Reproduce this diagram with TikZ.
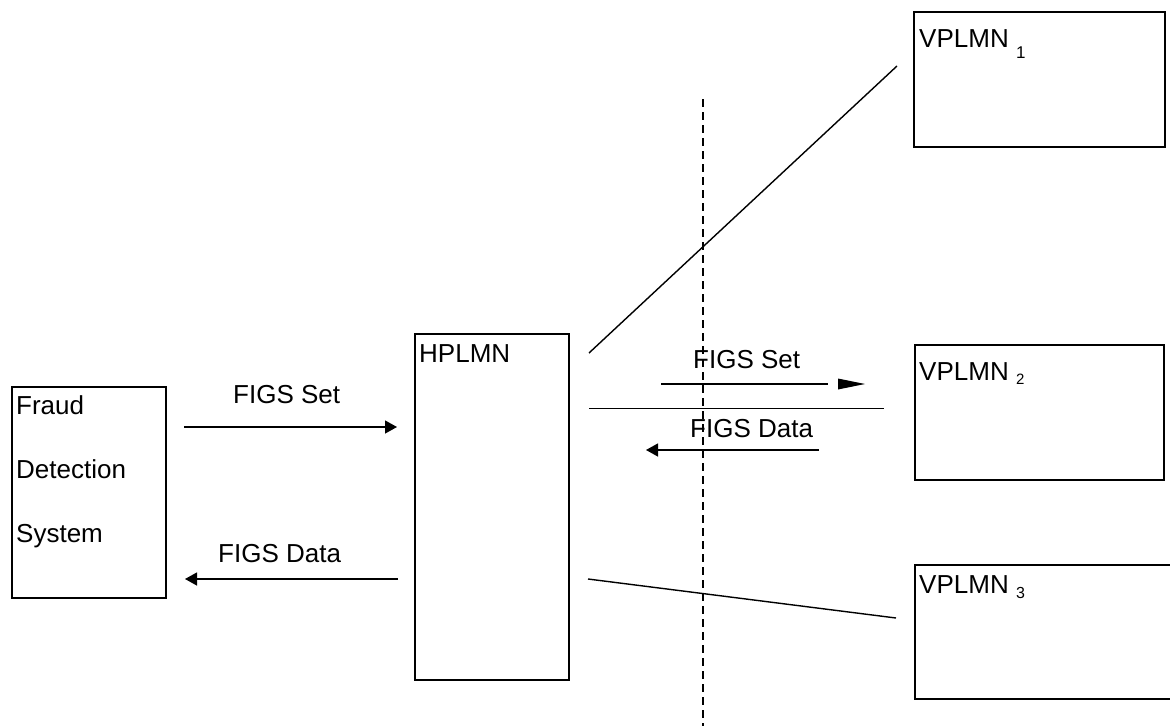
\documentclass[tikz,border=0pt]{standalone}
\usepackage{fontspec}
\setmainfont{Liberation Sans}
\usetikzlibrary{positioning,arrows.meta}

\begin{document}
\begin{tikzpicture}[x=1pt, y=-1pt,
    box/.style={draw, line width=1.4pt, rectangle, inner sep=0pt},
    lbl/.style={inner sep=0pt, anchor=base west, font=\fontsize{26}{31}\selectfont},
    msg/.style={line width=1.3pt, -{Triangle[length=12pt,width=13pt]}},
    link/.style={line width=1.4pt}]
    \clip (0,0) rectangle (1170,726);

    % Fraud Detection System
    \node[box, minimum width=154pt, minimum height=211pt] (fds) at (89,492.5) {};
    \node[lbl] (fdsA) at (16,414) {Fraud};
    \node[lbl] (fdsB) at (16,478) {Detection};
    \node[lbl] (fdsC) at (16,542) {System};

    % HPLMN
    \node[box, minimum width=154pt, minimum height=346pt] (hplmn) at (492,507) {};
    \node[lbl] (hplmnText) at (419,362) {HPLMN};

    % VPLMN boxes
    \node[box, minimum width=251pt, minimum height=135pt] (vplmnA) at (1039.5,79.5) {};
    \node[lbl] (vplmnAText) at (919,47) {VPLMN \raisebox{-11pt}{\fontsize{17}{17}\selectfont 1}};
    \node[box, minimum width=249pt, minimum height=135pt] (vplmnB) at (1039.5,412.5) {};
    \node[lbl] (vplmnBText) at (919,380) {VPLMN \raisebox{-4pt}{\fontsize{15}{15}\selectfont 2}};
    \node[box, minimum width=270pt, minimum height=134pt] (vplmnC) at (1050,632) {};
    \node[lbl] (vplmnCText) at (919,593) {VPLMN \raisebox{-5pt}{\fontsize{16}{16}\selectfont 3}};

    % FDS <-> HPLMN
    \coordinate (setA) at (184,427);
    \coordinate (setB) at (397,427);
    \draw[msg] (setA) -- (setB);
    \node[lbl] (setText) at (233,403) {FIGS Set};
    \coordinate (dataA) at (398,579);
    \coordinate (dataB) at (185,579);
    \draw[msg] (dataA) -- (dataB);
    \node[lbl] (dataText) at (218,562) {FIGS Data};

    % HPLMN <-> VPLMNs
    \coordinate (linkA) at (589,353);
    \coordinate (linkAend) at (897,66);
    \draw[link] (linkA) -- (linkAend);
    \coordinate (linkB) at (589,408);
    \coordinate (linkBend) at (884,408);
    \draw[line width=1pt] (linkB) -- (linkBend);
    \coordinate (linkC) at (588,579);
    \coordinate (linkCend) at (896,618);
    \draw[link] (linkC) -- (linkCend);

    % FIGS Set / FIGS Data across the border
    \coordinate (vsetA) at (661,384);
    \coordinate (vsetB) at (828,384);
    \draw[line width=1.3pt] (vsetA) -- (vsetB);
    \fill (838,378.5) -- (865,384) -- (838,389.5) -- cycle;
    \node[lbl] (vsetText) at (693,368) {FIGS Set};
    \coordinate (vdataA) at (819,450);
    \coordinate (vdataB) at (646,450);
    \draw[msg] (vdataA) -- (vdataB);
    \node[lbl] (vdataText) at (690,437) {FIGS Data};

    % Network border
    \coordinate (borderTop) at (703,99);
    \coordinate (borderBot) at (703,726);
    \draw[line width=1.1pt, dash pattern=on 8pt off 5pt] (borderTop) -- (borderBot);
\end{tikzpicture}
\end{document}
